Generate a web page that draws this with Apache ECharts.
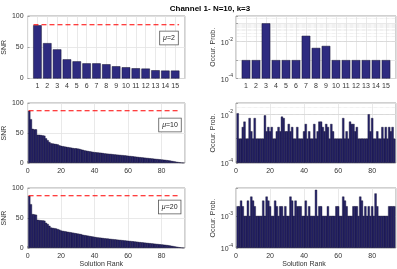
<!DOCTYPE html>
<html><head><meta charset="utf-8">
<script src="https://cdn.jsdelivr.net/npm/echarts@6/dist/echarts.min.js"></script>
<style>html,body{margin:0;padding:0;background:#fff}#c{width:397px;height:269px}</style>
</head><body><div id="c"></div>
<script>
// ---- data ----
const snrMu2 = [85.2,56.6,46.6,30.7,27.5,24.3,24.3,22.8,19.6,18.0,16.4,15.9,13.2,12.7,12.7];
const probMu2 = [0.001,0.001,0.1,0.001,0.001,0.001,0.021,0.0046,0.0059,0.001,0.001,0.001,0.001,0.001,0.001];
const snrMu10 = [87,73,57,56,56,47,47,46.5,46,45.5,41,38,35,33,32.5,32,31.5,31,29.5,28.5,
  28,27.5,27,26.5,26,25.5,25,24.5,24.5,24,23.5,22.5,22,21,20.5,20,19.5,19,18.5,18,
  17.8,17.5,17.2,17,16.5,16,15.7,15.5,15.2,15,14.6,14.3,14,13.8,13.5,13.2,13,12.7,12.4,12,
  11.7,11.4,11,10.7,10.4,10,9.7,9.4,9.1,8.8,8.5,8.2,7.9,7.6,7.3,7,6.7,6.4,6.1,5.8,
  5.5,5.2,4.9,4.5,4,3.5,3,2.5,2,1.5,1,0.6,0.3];
const probMu10 = [0.011,0.001,0.001,0.003,0.005,0.001,0.001,0.007,0.002,0.001,0.007,0.001,0.001,0.001,0.001,0.001,0.009,0.002,0.003,0.002,
  0.003,0.001,0.001,0.002,0.003,0.002,0.008,0.007,0.002,0.002,0.004,0.002,0.003,0.001,0.001,0.003,0.001,0.001,0.001,0.002,
  0.004,0.001,0.002,0.001,0.001,0.004,0.001,0.002,0.005,0.005,0.003,0.002,0.004,0.003,0.001,0.004,0.002,0.001,0.001,0.001,
  0.001,0.001,0.007,0.001,0.002,0.001,0.005,0.004,0.004,0.002,0.003,0.001,0.001,0.001,0.001,0.001,0.001,0.01,0.002,0.007,
  0.001,0.001,0.002,0.001,0.001,0.003,0.001,0.003,0.001,0.003,0.002,0.003,0.001];
const snrMu20 = [87,73,56.5,56,55.5,47,46.5,46,46,45.5,42,40,37,34,33.5,33,32.5,31.5,30.5,29,
  28.5,28,27.5,27,26.5,26,25.5,25,24.5,24,23.5,23,22,21.5,21,20.5,20,19.5,19,18.5,
  18,17.6,17.3,17,16.6,16.2,15.9,15.6,15.3,15,14.7,14.4,14.1,13.8,13.5,13.2,12.9,12.6,12.3,12,
  11.7,11.4,11.1,10.8,10.5,10.1,9.8,9.5,9.2,8.9,8.6,8.3,8,7.7,7.4,7.1,6.8,6.5,6.2,5.9,
  5.6,5.3,5,4.6,4.1,3.6,3.1,2.6,2.1,1.6,1.1,0.7,0.3];
const probMu20 = [0.002,0.002,0.003,0.002,0.001,0.001,0.003,0.001,0.004,0.003,0.002,0.001,0.001,0.001,0.001,0.003,0.001,0.004,0.003,0.002,
  0.001,0.001,0.003,0.002,0.001,0.002,0.002,0.001,0.002,0.001,0.001,0.004,0.003,0.001,0.003,0.002,0.002,0.002,0.001,0.001,
  0.003,0.001,0.002,0.001,0.001,0.001,0.0065,0.001,0.002,0.002,0.001,0.001,0.001,0.002,0.001,0.001,0.001,0.001,0.002,0.002,
  0.001,0.001,0.004,0.003,0.002,0.001,0.001,0.001,0.002,0.002,0.002,0.001,0.004,0.003,0.001,0.002,0.001,0.002,0.001,0.002,
  0.001,0.005,0.002,0.001,0.001,0.001,0.001,0.001,0.001,0.002,0.002,0.002,0.002];
const refSNR = [86, 87, 87];
const refSpan = [[0.6, 15.4], [0.6, 91], [0.6, 91]];
const muValues = ['2', '10', '20'];
const snrTicks = [0, 50, 100];
const probMax = [0.25, 0.029, 0.0074];
const probMin = 1e-4;

// ---- layout / styling ----
const BAR = '#2e2b80';
const BAR_DENSE = '#25226a';
const FONT = 'Liberation Sans, Arial, sans-serif';
const LBL = '#333';
const rows = [
  {top: 16, h: 62.5},
  {top: 103, h: 60},
  {top: 188, h: 60}
];
const L = {left: 26.5, w: 158.5};
const R = {left: 236, w: 160};
const snrSets = [snrMu2, snrMu10, snrMu20];
const probSets = [probMu2, probMu10, probMu20];

const grids = [], xAxes = [], yAxes = [], series = [];
function logLabel(evenOnly) {
  return function (v) {
    const e = Math.log10(v);
    const r = Math.round(e);
    if (Math.abs(e - r) > 1e-6) return '';
    if (evenOnly && r % 2 !== 0) return '';
    return '{b|10}{s|' + r + '}';
  };
}
function minorLines(lo, hi) {
  const out = [];
  for (let e = -5; e <= 0; e++) for (let m = 2; m <= 9; m++) {
    const v = m * Math.pow(10, e);
    if (v > lo * 1.0001 && v < hi * 0.9999) out.push({yAxis: v});
  }
  return out;
}
const gridLineStyle = {color: '#e3e3e3', width: 0.8};
const axisLbl = {fontSize: 7, color: LBL, fontFamily: FONT};

rows.forEach((row, r) => {
  const n = snrSets[r].length;
  const xmax = n + 1;
  const isTop = r === 0;
  const isBottom = r === 2;
  [L, R].forEach((col, c) => {
    const gi = grids.length;
    const unitPx = col.w / xmax;
    const bw = isTop ? unitPx * 0.86 : unitPx * 1.3;
    const barStyle = isTop
      ? {color: BAR, borderColor: '#141230', borderWidth: 0.5}
      : {color: BAR_DENSE, borderColor: '#141230', borderWidth: 0.4};
    grids.push({left: col.left, top: row.top, width: col.w, height: row.h,
      show: true, borderColor: '#8a8a8a', borderWidth: 0.8, backgroundColor: 'transparent'});
    xAxes.push({
      type: 'value', gridIndex: gi, min: 0, max: xmax, interval: isTop ? 1 : 20,
      axisLine: {show: false},
      axisTick: {show: true, inside: true, length: 2, lineStyle: {color: '#777', width: 0.6}},
      axisLabel: Object.assign({margin: 4.5, showMaxLabel: false, showMinLabel: !isTop,
        formatter: v => (v === 0 && isTop) || v >= xmax ? '' : String(v)}, axisLbl),
      splitLine: {show: true, lineStyle: gridLineStyle},
      name: isBottom ? 'Solution Rank' : '',
      nameLocation: 'middle', nameGap: 12,
      nameTextStyle: {fontSize: 7, color: LBL, fontFamily: FONT, padding: c === 0 ? [0, 10, 0, 0] : [0, 24, 0, 0]}
    });
    if (c === 0) {
      yAxes.push({
        type: 'value', gridIndex: gi, min: snrTicks[0], max: snrTicks[2], interval: snrTicks[1] - snrTicks[0],
        axisLine: {show: false},
        axisTick: {show: true, inside: true, length: 2, lineStyle: {color: '#777', width: 0.6}},
        axisLabel: Object.assign({margin: 4}, axisLbl),
        splitLine: {show: true, lineStyle: gridLineStyle},
        name: 'SNR', nameLocation: 'middle', nameGap: 13,
        nameTextStyle: {fontSize: 7, color: LBL, fontFamily: FONT}
      });
      series.push({
        type: 'bar', xAxisIndex: gi, yAxisIndex: gi, barWidth: bw,
        data: snrSets[r].map((v, i) => [i + 1, v]),
        itemStyle: barStyle, silent: true, animation: false
      });
      series.push({
        type: 'line', xAxisIndex: gi, yAxisIndex: gi, z: 6,
        data: refSpan[r].map(x => [x, refSNR[r]]),
        symbol: 'none', silent: true, animation: false,
        lineStyle: {color: '#ff0000', type: [5, 3], width: 1.1}
      });
    } else {
      yAxes.push({
        type: 'log', logBase: 10, gridIndex: gi, min: probMin, max: probMax[r], startValue: probMin,
        axisLine: {show: false},
        axisTick: {show: true, inside: true, length: 2, lineStyle: {color: '#777', width: 0.6}},
        axisLabel: Object.assign({margin: 3, formatter: logLabel(r < 2),
          rich: {b: {fontSize: 7, color: LBL, fontFamily: FONT, lineHeight: 10, verticalAlign: 'bottom'},
                 s: {fontSize: 5, color: LBL, fontFamily: FONT, lineHeight: 6, verticalAlign: 'top'}}}, axisLbl),
        splitLine: {show: true, lineStyle: gridLineStyle},
        name: 'Occur. Prob.', nameLocation: 'middle', nameGap: 19,
        nameTextStyle: {fontSize: 7, color: LBL, fontFamily: FONT}
      });
      series.push({
        type: 'bar', xAxisIndex: gi, yAxisIndex: gi, barWidth: bw,
        data: probSets[r].map((v, i) => [i + 1, v]),
        itemStyle: barStyle, silent: true, animation: false, z: 3,
        markLine: {
          silent: true, symbol: 'none', label: {show: false}, z: 1,
          lineStyle: {color: '#d8d8d8', type: 'dotted', width: 0.6},
          data: minorLines(probMin, probMax[r])
        }
      });
    }
  });
});

const boxPos = [[169, 38], [170, 125], [169.7, 207]];
const graphics = muValues.map((mu, r) => ({
  type: 'text', x: boxPos[r][0], y: boxPos[r][1], z: 10,
  style: {
    text: '{i|μ}=' + mu, align: 'center', verticalAlign: 'middle',
    fontSize: 7, fill: '#222', fontFamily: FONT,
    backgroundColor: '#fff', borderColor: '#555', borderWidth: 0.8, padding: [3, 3, 3, 3],
    rich: {i: {fontStyle: 'italic', fontSize: 7, fill: '#222', fontFamily: FONT}}
  }
}));

const chart = echarts.init(document.getElementById('c'), null, {renderer: 'canvas'});
chart.setOption({
  animation: false,
  backgroundColor: '#fff',
  title: {text: 'Channel 1- N=10, k=3', left: 205, top: 0, textAlign: 'center',
    textStyle: {fontSize: 8, fontWeight: 'bold', color: '#000', fontFamily: FONT}},
  grid: grids, xAxis: xAxes, yAxis: yAxes, series: series, graphic: graphics
});
</script></body></html>
